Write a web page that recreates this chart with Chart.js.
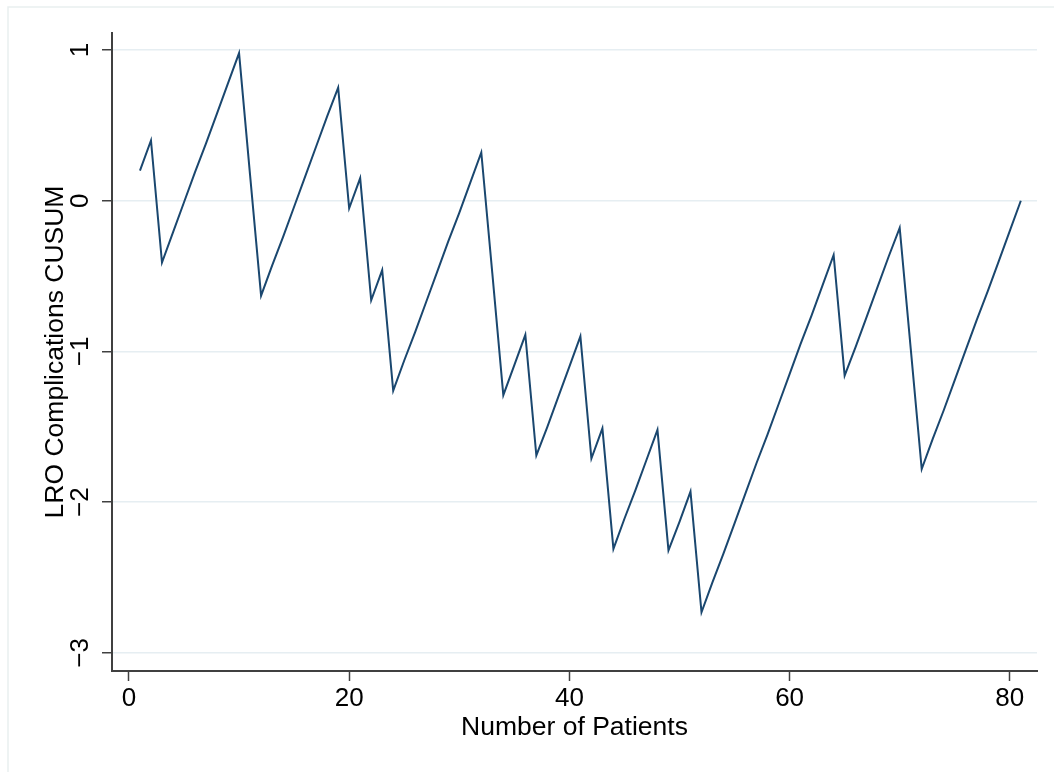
<!DOCTYPE html>
<html>
<head>
<meta charset="utf-8">
<script src="https://cdn.jsdelivr.net/npm/chart.js@4/dist/chart.umd.min.js"></script>
<style>
  html, body { margin: 0; padding: 0; background: #ffffff; }
  #wrap { width: 1054px; height: 772px; }
</style>
</head>
<body>
<div id="wrap"><canvas id="c" width="1054" height="772"></canvas></div>
<script>
// Data
const patients = [];
for (let i = 1; i <= 81; i++) patients.push(i);
const cusum = [
  0.20, 0.40, -0.41, -0.21, -0.01, 0.19, 0.38, 0.58, 0.78, 0.98,
  0.17, -0.63, -0.43, -0.24, -0.04, 0.16, 0.36, 0.56, 0.75, -0.05,
  0.15, -0.66, -0.46, -1.26, -1.06, -0.87, -0.67, -0.47, -0.27, -0.08,
  0.12, 0.32, -0.48, -1.29, -1.09, -0.89, -1.69, -1.50, -1.30, -1.10,
  -0.90, -1.71, -1.51, -2.31, -2.11, -1.92, -1.72, -1.52, -2.32, -2.13,
  -1.93, -2.73, -2.53, -2.34, -2.14, -1.94, -1.74, -1.55, -1.35, -1.15,
  -0.95, -0.76, -0.56, -0.36, -1.16, -0.97, -0.77, -0.57, -0.37, -0.18,
  -0.98, -1.78, -1.58, -1.39, -1.19, -0.99, -0.79, -0.60, -0.40, -0.20,
  0.00
];
const xTicks = [0, 20, 40, 60, 80];
const yTicks = [-3, -2, -1, 0, 1];
const xTitle = "Number of Patients";
const yTitle = "LRO Complications CUSUM";

const FONT = '"Liberation Sans", Arial, Helvetica, sans-serif';
const AXIS_COLOR = '#404040';

function fmt(v) { return v < 0 ? '\u2212' + Math.abs(v) : String(v); }

const textPlugin = {
  id: 'stataText',
  beforeDraw(chart) {
    const ctx = chart.ctx;
    ctx.save();
    ctx.strokeStyle = '#e9efef';
    ctx.lineWidth = 1.5;
    ctx.beginPath();
    ctx.moveTo(8, 772);
    ctx.lineTo(8, 7);
    ctx.lineTo(1054, 7);
    ctx.stroke();
    ctx.restore();
  },
  afterDraw(chart) {
    const ctx = chart.ctx;
    const xs = chart.scales.x, ys = chart.scales.y;
    const area = chart.chartArea;
    ctx.save();
    ctx.fillStyle = '#000000';
    ctx.font = '26px ' + FONT;
    // x tick labels
    ctx.textAlign = 'center';
    ctx.textBaseline = 'alphabetic';
    xTicks.forEach(v => {
      ctx.fillText(fmt(v), xs.getPixelForValue(v), 706);
    });
    // y tick labels (rotated)
    yTicks.forEach(v => {
      ctx.save();
      ctx.translate(88, ys.getPixelForValue(v));
      ctx.rotate(-Math.PI / 2);
      ctx.fillText(fmt(v), 0, 0);
      ctx.restore();
    });
    ctx.font = '26.5px ' + FONT;
    // x title
    ctx.fillText(xTitle, (area.left + area.right) / 2, 735);
    // y title
    ctx.save();
    ctx.translate(63, (area.top + area.bottom) / 2);
    ctx.rotate(-Math.PI / 2);
    ctx.fillText(yTitle, 0, 0);
    ctx.restore();
    ctx.restore();
  }
};

new Chart(document.getElementById('c'), {
  type: 'line',
  data: {
    datasets: [{
      data: patients.map((p, i) => ({ x: p, y: cusum[i] })),
      borderColor: '#1a476f',
      borderWidth: 2,
      pointRadius: 0,
      tension: 0,
      fill: false
    }]
  },
  options: {
    responsive: false,
    animation: false,
    layout: { padding: { top: 33, right: 17, left: 0, bottom: 0 } },
    plugins: { legend: { display: false }, tooltip: { enabled: false } },
    scales: {
      x: {
        type: 'linear',
        min: -1.54,
        max: 82.47,
        afterBuildTicks: (s) => { s.ticks = xTicks.map(v => ({ value: v })); },
        afterFit: (s) => { s.height = 101; },
        ticks: { display: false },
        grid: { display: true, drawOnChartArea: false, drawTicks: true, tickLength: 10, tickColor: AXIS_COLOR, tickWidth: 1.5, color: AXIS_COLOR },
        border: { display: true, color: AXIS_COLOR, width: 2 }
      },
      y: {
        type: 'linear',
        min: -3.12,
        max: 1.113,
        afterBuildTicks: (s) => { s.ticks = yTicks.map(v => ({ value: v })); },
        afterFit: (s) => { s.width = 112; },
        ticks: { display: false },
        grid: { display: true, drawOnChartArea: true, drawTicks: true, tickLength: 10, tickColor: AXIS_COLOR, tickWidth: 1.5, color: '#e6eef2', lineWidth: 1.5 },
        border: { display: true, color: AXIS_COLOR, width: 2 }
      }
    }
  },
  plugins: [textPlugin]
});
</script>
</body>
</html>
